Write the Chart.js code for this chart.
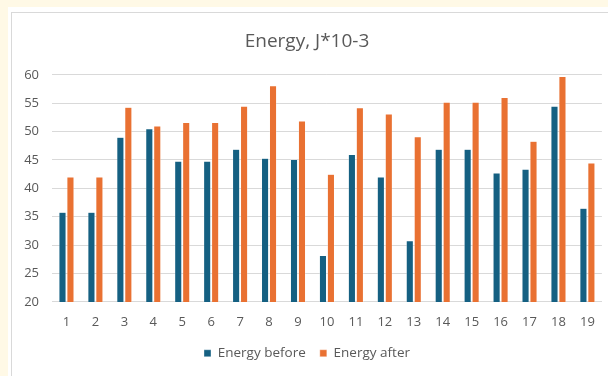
<!DOCTYPE html>
<html>
<head>
<meta charset="utf-8">
<script src="https://cdn.jsdelivr.net/npm/chart.js@4/dist/chart.umd.min.js"></script>
<style>
  html, body { margin: 0; padding: 0; }
  body { width: 608px; height: 376px; background: #FFF9E6; position: relative; overflow: hidden; }
  #sheet { position: absolute; left: 8px; top: 7px; width: 620px; height: 400px; background: #ffffff; }
  #frame { position: absolute; left: 11px; top: 12px; width: 620px; height: 400px; border: 1px solid #D9D9D9; box-sizing: border-box; }
  #wrap { position: absolute; left: 0; top: 0; width: 608px; height: 376px; }
</style>
</head>
<body>
<div id="sheet"></div>
<div id="frame"></div>
<div id="wrap"><canvas id="chart" width="608" height="376"></canvas></div>
<script>
const categories = ['1','2','3','4','5','6','7','8','9','10','11','12','13','14','15','16','17','18','19'];
const energyBefore = [35.8, 35.8, 49.0, 50.5, 44.8, 44.8, 46.9, 45.3, 45.1, 28.2, 46.0, 42.0, 30.8, 46.9, 46.9, 42.7, 43.4, 54.5, 36.5];
const energyAfter  = [42.0, 42.0, 54.3, 51.0, 51.6, 51.6, 54.5, 58.1, 51.9, 42.5, 54.2, 53.1, 49.1, 55.2, 55.2, 56.0, 48.3, 59.7, 44.5];
const yTicks = [20, 25, 30, 35, 40, 45, 50, 55, 60];

const textColor = '#595959';
const gridColor = '#D9D9D9';
const fontFamily = "'Open Sans', 'Liberation Sans', sans-serif";

new Chart(document.getElementById('chart'), {
  type: 'bar',
  data: {
    labels: categories,
    datasets: [
      { label: 'Energy before', data: energyBefore, backgroundColor: '#156082', borderColor: 'rgba(255,255,255,0.6)', borderWidth: 0.6 },
      { label: 'Energy after',  data: energyAfter,  backgroundColor: '#E97132', borderColor: 'rgba(255,255,255,0.6)', borderWidth: 0.6 }
    ]
  },
  options: {
    responsive: false,
    animation: false,
    layout: { padding: { left: 12, right: 6, top: 30, bottom: 6 } },
    datasets: { bar: { barPercentage: 0.92, categoryPercentage: 0.55 } },
    plugins: {
      title: {
        display: true,
        text: 'Energy, J*10-3',
        color: textColor,
        font: { family: fontFamily, size: 19, weight: 'normal' },
        padding: { top: 0, bottom: 22 }
      },
      legend: {
        position: 'bottom',
        labels: {
          color: textColor,
          font: { family: fontFamily, size: 13.5 },
          boxWidth: 7,
          boxHeight: 7,
          padding: 14
        }
      },
      tooltip: { enabled: false }
    },
    scales: {
      x: {
        afterFit: (scale) => { scale.height -= 11; },
        grid: { display: false, drawTicks: false },
        border: { display: true, color: gridColor, width: 1 },
        ticks: { color: textColor, font: { family: fontFamily, size: 13 }, padding: 13, maxRotation: 0, autoSkip: false }
      },
      y: {
        min: 20,
        max: 60,
        afterBuildTicks: (scale) => { scale.ticks = yTicks.map(v => ({ value: v })); },
        afterFit: (scale) => { scale.width = 40; },
        grid: { color: gridColor, drawTicks: false },
        border: { display: false },
        ticks: { color: textColor, font: { family: fontFamily, size: 13 }, padding: 13 }
      }
    }
  }
});
</script>
</body>
</html>
